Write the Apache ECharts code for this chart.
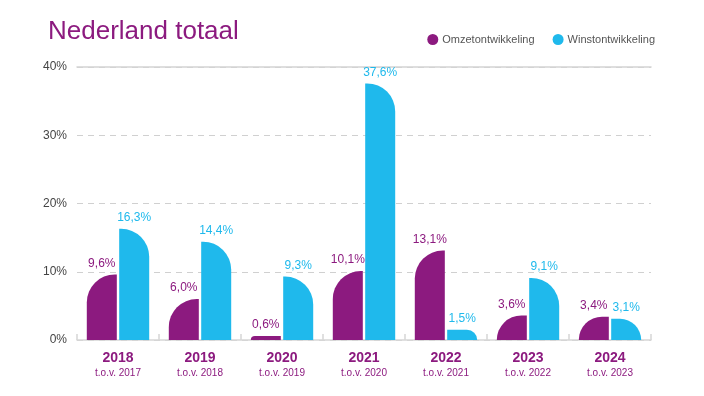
<!DOCTYPE html>
<html>
<head>
<meta charset="utf-8">
<script src="https://cdn.jsdelivr.net/npm/echarts@6/dist/echarts.min.js"></script>
<style>html,body{margin:0;padding:0;background:#fff}#c{width:704px;height:396px}</style>
</head>
<body>
<div id="c"></div>
<script>
const years = ['2018','2019','2020','2021','2022','2023','2024'];
const compareYears = ['2017','2018','2019','2020','2021','2022','2023'];
const omzet = [9.6, 6.0, 0.6, 10.1, 13.1, 3.6, 3.4];
const winst = [16.3, 14.4, 9.3, 37.6, 1.5, 9.1, 3.1];
const yTicks = [0, 10, 20, 30, 40];

const PURPLE = '#8c1a7f';
const CYAN = '#1fb9ec';
const fmt = v => String(v.toFixed(1)).replace('.', ',') + '%';

const chart = echarts.init(document.getElementById('c'), null, {renderer: 'canvas'});
chart.setOption({
  animation: false,
  backgroundColor: '#fff',
  title: {
    text: 'Nederland totaal',
    left: 43, top: 14,
    textStyle: {color: PURPLE, fontSize: 26, fontWeight: 'normal', fontFamily: 'Liberation Sans'}
  },
  legend: {
    right: 44, top: 29,
    icon: 'circle', itemWidth: 11, itemHeight: 11, itemGap: 18,
    textStyle: {color: '#555', fontSize: 11, fontFamily: 'Liberation Sans', padding: [0,0,0,-1]},
    data: ['Omzetontwikkeling', 'Winstontwikkeling']
  },
  grid: {left: 77, right: 53, top: 67, bottom: 56},
  xAxis: [{
    type: 'category',
    data: years,
    axisLine: {lineStyle: {color: '#d6d6d6', width: 1.5}},
    axisTick: {show: true, inside: true, length: 6, lineStyle: {color: '#d6d6d6', width: 1.5}},
    axisLabel: {
      interval: 0,
      margin: 10,
      formatter: (v, i) => '{a|' + v + '}\n{b|t.o.v. ' + compareYears[i] + '}',
      rich: {
        a: {color: PURPLE, fontSize: 14, fontWeight: 'bold', fontFamily: 'Liberation Sans', lineHeight: 17},
        b: {color: PURPLE, fontSize: 10, fontFamily: 'Liberation Sans', lineHeight: 13}
      }
    }
  }, {
    type: 'category',
    position: 'top',
    data: years,
    axisLine: {show: true, lineStyle: {color: '#d3d3d3', width: 1.5}},
    axisTick: {show: false},
    axisLabel: {show: false}
  }],
  yAxis: {
    type: 'value',
    min: yTicks[0], max: yTicks[yTicks.length - 1], interval: 10,
    axisLine: {show: false},
    axisTick: {show: false},
    axisLabel: {color: '#444', fontSize: 12, fontFamily: 'Liberation Sans', margin: 10, formatter: v => v + '%'},
    splitLine: {lineStyle: {color: '#d0d0d0', type: [6, 5], width: 1.2}}
  },
  series: [{
    name: 'Omzetontwikkeling',
    type: 'bar',
    data: omzet,
    barWidth: 30,
    barGap: '8%',
    z: 3,
    itemStyle: {color: PURPLE, borderRadius: [28, 0, 0, 0]},
    label: {show: true, position: 'top', distance: 5, color: PURPLE, fontSize: 12, fontFamily: 'Liberation Sans', formatter: p => fmt(p.value)}
  }, {
    name: 'Winstontwikkeling',
    type: 'bar',
    data: winst,
    barWidth: 30,
    z: 3,
    itemStyle: {color: CYAN, borderRadius: [0, 28, 0, 0]},
    label: {show: true, position: 'top', distance: 5, color: CYAN, fontSize: 12, fontFamily: 'Liberation Sans', formatter: p => fmt(p.value)}
  }]
});
</script>
</body>
</html>
